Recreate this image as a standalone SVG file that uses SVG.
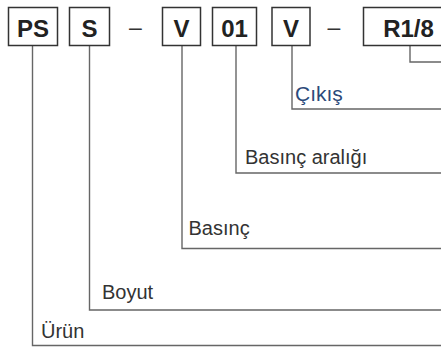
<svg xmlns="http://www.w3.org/2000/svg" width="441" height="354" viewBox="0 0 441 354">
<style>
.box{fill:#fff;stroke:#333;stroke-width:1.5}
.code{font-family:"Liberation Sans",Arial,sans-serif;font-weight:bold;font-size:24px;fill:#222;text-anchor:middle}
.dash{font-family:"Liberation Sans",Arial,sans-serif;font-size:23px;fill:#333;text-anchor:middle}
.lbl{font-family:"Liberation Sans",Arial,sans-serif;font-size:20px;fill:#333}
.blue{fill:#2b4a7a;font-size:21px}
.conn{fill:none;stroke:#666;stroke-width:1.4}
</style>
<rect width="441" height="354" fill="#fff"/>
<g id="connectors">
<polyline class="conn" points="32.5,45.5 32.5,345.5 441,345.5"/>
<polyline class="conn" points="89.5,45.5 89.5,310 441,310"/>
<polyline class="conn" points="182,45.5 182,248.5 441,248.5"/>
<polyline class="conn" points="236,45.5 236,173 441,173"/>
<polyline class="conn" points="292,45.5 292,109 441,109"/>
<polyline class="conn" points="410,45.5 410,62 441,62"/>
</g>
<g id="node-ps">
<rect class="box" x="8.5" y="7.5" width="49" height="38"/>
<text class="code" x="33" y="37">PS</text>
</g>
<g id="node-s">
<rect class="box" x="69.5" y="7.5" width="40" height="38"/>
<text class="code" x="89.5" y="37">S</text>
</g>
<g id="dash-1"><text class="dash" x="135.5" y="35">–</text></g>
<g id="node-v1">
<rect class="box" x="162.5" y="7.5" width="38" height="38"/>
<text class="code" x="181.5" y="37">V</text>
</g>
<g id="node-01">
<rect class="box" x="212.5" y="7.5" width="44" height="38"/>
<text class="code" x="234.5" y="37">01</text>
</g>
<g id="node-v2">
<rect class="box" x="272" y="7.5" width="38" height="38"/>
<text class="code" x="291" y="37">V</text>
</g>
<g id="dash-2"><text class="dash" x="334" y="35">–</text></g>
<g id="node-r18">
<rect class="box" x="363.5" y="7.5" width="90" height="38"/>
<text class="code" x="408.5" y="37">R1/8</text>
</g>
<g id="label-cikis"><text class="lbl blue" x="295" y="101">Çıkış</text></g>
<g id="label-basinc-araligi"><text class="lbl" x="245" y="163.5">Basınç aralığı</text></g>
<g id="label-basinc"><text class="lbl" x="188.5" y="235">Basınç</text></g>
<g id="label-boyut"><text class="lbl" x="102" y="298.5">Boyut</text></g>
<g id="label-urun"><text class="lbl" x="41" y="337.5">Ürün</text></g>
</svg>
